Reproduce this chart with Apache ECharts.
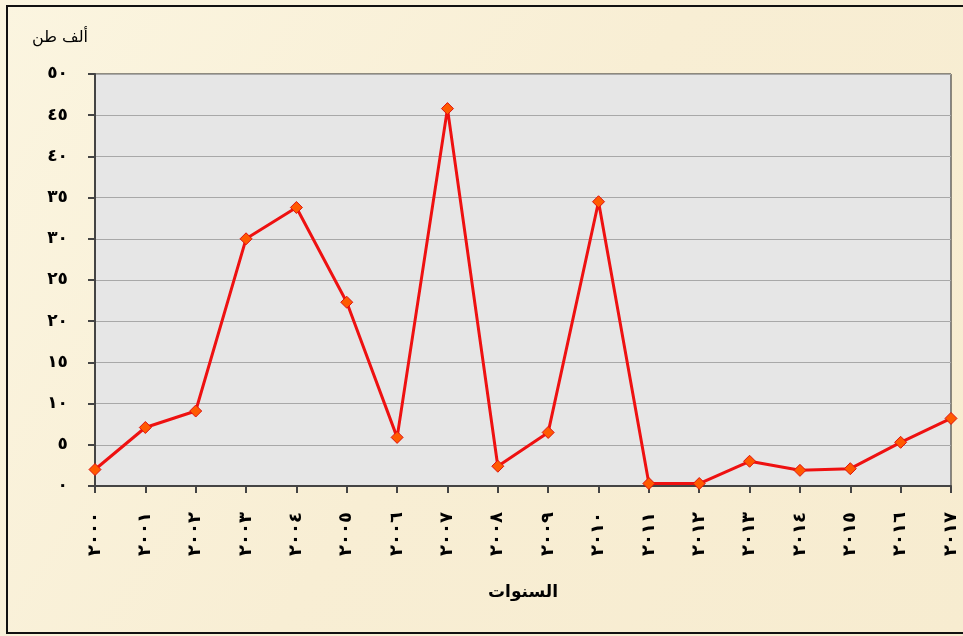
<!DOCTYPE html>
<html>
<head>
<meta charset="utf-8">
<script src="https://cdn.jsdelivr.net/npm/echarts@6/dist/echarts.min.js"></script>
<style>
html,body{margin:0;padding:0;background:#fff;}
#chart{width:963px;height:636px;}
</style>
</head>
<body>
<div id="chart"></div>
<script>
const years = [2000,2001,2002,2003,2004,2005,2006,2007,2008,2009,2010,2011,2012,2013,2014,2015,2016,2017];
const values = [2.0,7.1,9.1,30.0,33.8,22.3,5.9,45.8,2.4,6.5,34.5,0.3,0.3,3.0,1.9,2.1,5.3,8.2];
const yTicks = [0,5,10,15,20,25,30,35,40,45,50];
const yName = 'ألف طن';
const xName = 'السنوات';

const toArabic = s => String(s).replace(/[0-9]/g, d => '٠١٢٣٤٥٦٧٨٩'[+d]);

const chart = echarts.init(document.getElementById('chart'));
chart.setOption({
  backgroundColor: {
    type: 'linear', x: 0, y: 0, x2: 1, y2: 1,
    colorStops: [{offset: 0, color: '#fbf5e0'}, {offset: 0.5, color: '#f8eed4'}, {offset: 1, color: '#f7ecd0'}]
  },
  animation: false,
  graphic: [
    {type: 'rect', shape: {x: 7, y: 6, width: 962, height: 627}, style: {fill: 'none', stroke: '#111', lineWidth: 2}},
    {type: 'text', x: 88, y: 38, style: {text: yName, fontSize: 16, fontFamily: 'DejaVu Sans', fill: '#000', align: 'right', verticalAlign: 'middle'}},
    {type: 'text', x: 523, y: 593, style: {text: xName, fontSize: 17, fontWeight: 'bold', fontFamily: 'DejaVu Sans', fill: '#000', align: 'center', verticalAlign: 'middle'}}
  ],
  grid: {left: 95, right: 12, top: 74, bottom: 150, show: true, backgroundColor: '#e6e6e6', borderColor: '#222', borderWidth: 1},
  xAxis: {
    type: 'category',
    data: years,
    boundaryGap: false,
    axisLine: {lineStyle: {color: '#444', width: 2}},
    axisTick: {show: true, length: 7, lineStyle: {color: '#444', width: 2}},
    axisLabel: {rotate: 90, margin: 26, fontSize: 18, fontWeight: 'bold', fontFamily: 'DejaVu Sans', color: '#000', formatter: v => toArabic(v), interval: 0},
    splitLine: {show: false}
  },
  yAxis: {
    type: 'value',
    min: yTicks[0], max: yTicks[yTicks.length - 1], interval: 5,
    axisLine: {show: true, lineStyle: {color: '#444', width: 2}},
    axisTick: {show: true, length: 7, lineStyle: {color: '#444', width: 2}},
    axisLabel: {margin: 27, fontSize: 17, fontWeight: 'bold', fontFamily: 'DejaVu Sans', color: '#000', formatter: v => toArabic(v)},
    splitLine: {show: true, lineStyle: {color: '#a8a8a8', width: 1}}
  },
  series: [{
    type: 'line',
    data: values,
    symbol: 'diamond',
    symbolSize: 12,
    lineStyle: {color: '#ee1111', width: 3},
    itemStyle: {color: '#ff5a00', borderColor: '#e01010', borderWidth: 1}
  }]
});
</script>
</body>
</html>
